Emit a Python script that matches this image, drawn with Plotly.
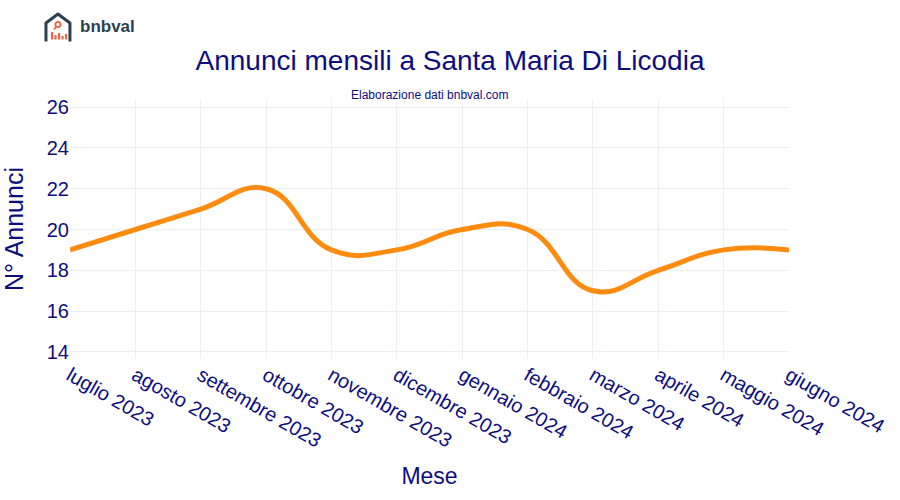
import base64
import plotly.graph_objects as go

months = ["luglio 2023", "agosto 2023", "settembre 2023", "ottobre 2023",
          "novembre 2023", "dicembre 2023", "gennaio 2024", "febbraio 2024",
          "marzo 2024", "aprile 2024", "maggio 2024", "giugno 2024"]
listings = [19, 20, 21, 22, 19, 19, 20, 20, 17, 18, 19, 19]
y_ticks = [14, 16, 18, 20, 22, 24, 26]

navy = "#0d0d80"

logo_svg = """<svg xmlns='http://www.w3.org/2000/svg' width='28' height='30' viewBox='0 0 28 30'>
<path d='M2 29.5 L2 11 L14 2 L26 11 L26 29.5' fill='none' stroke='#2b3f4e' stroke-width='3' stroke-linejoin='round'/>
<circle cx='14' cy='12.5' r='2.6' fill='none' stroke='#e8694a' stroke-width='1.8'/>
<line x1='12.2' y1='14.6' x2='10' y2='17.5' stroke='#e8694a' stroke-width='1.8'/>
<rect x='7' y='20' width='2.2' height='7.5' fill='#e8694a'/>
<rect x='10.5' y='23' width='2.2' height='4.5' fill='#e8694a'/>
<rect x='14' y='21' width='2.2' height='6.5' fill='#e8694a'/>
<rect x='17.5' y='24' width='2.2' height='3.5' fill='#e8694a'/>
<rect x='21' y='22' width='2.2' height='5.5' fill='#e8694a'/>
</svg>"""
logo_uri = "data:image/svg+xml;base64," + base64.b64encode(logo_svg.encode()).decode()

fig = go.Figure()
fig.add_trace(go.Scatter(
    x=months, y=listings, mode="lines",
    line=dict(color="#ff8c0f", width=5, shape="spline", smoothing=1.3),
    hoverinfo="x+y", showlegend=False,
))

fig.update_layout(
    width=900, height=500,
    paper_bgcolor="white", plot_bgcolor="white",
    font=dict(family="Arial, Liberation Sans, sans-serif", color=navy),
    margin=dict(l=70, r=111, t=99, b=141),
    title=dict(text="Annunci mensili a Santa Maria Di Licodia", x=0.5, xanchor="center",
               y=0.88, yanchor="middle", font=dict(size=28, color=navy)),
    xaxis=dict(
        range=[0, len(months) - 1], tickangle=30, tickfont=dict(size=20, color=navy),
        showgrid=True, gridcolor="#eeeef4", zeroline=False, showline=False,
        automargin=False,
        title=dict(text="Mese", font=dict(size=23, color=navy), standoff=17),
    ),
    yaxis=dict(
        range=[13.65, 26.4], tickvals=y_ticks, tickfont=dict(size=20, color=navy),
        showgrid=True, gridcolor="#eeeef4", zeroline=False, showline=False,
        automargin=False,
        title=dict(text="N° Annunci", font=dict(size=25, color=navy), standoff=20),
    ),
    annotations=[
        dict(text="Elaborazione dati bnbval.com", xref="paper", yref="paper",
             x=0.5, y=1.015, xanchor="center", yanchor="middle",
             showarrow=False, font=dict(size=12, color=navy)),
        dict(text="<b>bnbval</b>", xref="paper", yref="paper",
             x=0.011, y=1.277, xanchor="left", yanchor="middle",
             showarrow=False, font=dict(size=17, color="#2b3f4e")),
    ],
    images=[dict(source=logo_uri, xref="paper", yref="paper",
                 x=-0.0362, y=1.3346, sizex=0.0389, sizey=0.1154,
                 xanchor="left", yanchor="top", sizing="stretch", layer="above")],
)

fig.write_html("out.html", config={"displayModeBar": False},
               post_script="document.body.style.margin='0';")
